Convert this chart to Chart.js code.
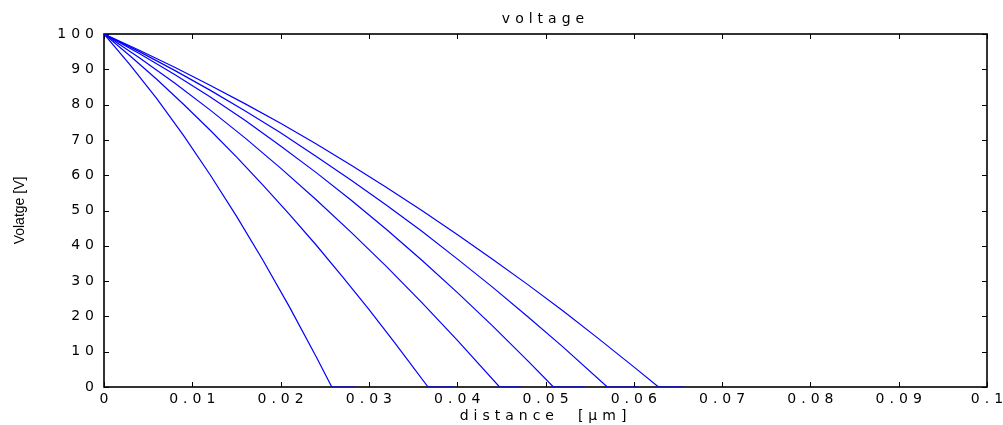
<!DOCTYPE html>
<html>
<head>
<meta charset="utf-8">
<script src="https://cdn.jsdelivr.net/npm/chart.js@4.4.1/dist/chart.umd.min.js"></script>
<style>
  html, body { margin: 0; padding: 0; background: #ffffff; }
  #wrap { width: 1003px; height: 425px; }
</style>
</head>
<body>
<div id="wrap"><canvas id="c" width="1003" height="425"></canvas></div>
<script>
// ---- data ----
const chartTitle = 'voltage';
const xAxisTitle = 'distance  [\u00b5m]';
const yAxisTitle = 'Volatge [V]';

const xTickLabels = ['0', '0.01', '0.02', '0.03', '0.04', '0.05', '0.06', '0.07', '0.08', '0.09', '0.1'];
const yTickLabels = ['0', '10', '20', '30', '40', '50', '60', '70', '80', '90', '100'];

const dist1 = [0, 0.003, 0.006, 0.009, 0.012, 0.015, 0.018, 0.021, 0.024, 0.0258, 0.0284];
const volt1 = [100, 91.1, 81.6, 71.3, 60.2, 48.4, 35.9, 22.7, 8.7, 0, 0];

const dist2 = [0, 0.003, 0.006, 0.009, 0.012, 0.015, 0.018, 0.021, 0.024, 0.027, 0.030, 0.033, 0.0367, 0.0396];
const volt2 = [100, 93.7, 87.1, 80.1, 72.8, 65.2, 57.2, 48.9, 40.3, 31.3, 22.0, 12.3, 0, 0];

const dist3 = [0, 0.004, 0.008, 0.012, 0.016, 0.020, 0.024, 0.028, 0.032, 0.036, 0.040, 0.0448, 0.0473];
const volt3 = [100, 93.3, 86.1, 78.5, 70.5, 62.0, 53.1, 43.8, 34.1, 23.9, 13.3, 0, 0];

const dist4 = [0, 0.004, 0.008, 0.012, 0.016, 0.020, 0.024, 0.028, 0.032, 0.036, 0.040, 0.044, 0.048, 0.0509, 0.0545];
const volt4 = [100, 94.5, 88.5, 82.2, 75.5, 68.3, 60.8, 52.9, 44.6, 35.9, 26.8, 17.3, 7.4, 0, 0];

const dist5 = [0, 0.004, 0.008, 0.012, 0.016, 0.020, 0.024, 0.028, 0.032, 0.036, 0.040, 0.044, 0.048, 0.052, 0.057, 0.0605];
const volt5 = [100, 95.0, 89.7, 84.1, 78.2, 72.0, 65.4, 58.6, 51.5, 44.1, 36.3, 28.3, 19.9, 11.3, 0, 0];

const dist6 = [0, 0.004, 0.008, 0.012, 0.016, 0.020, 0.024, 0.028, 0.032, 0.036, 0.040, 0.044, 0.048, 0.052, 0.056, 0.060, 0.0628, 0.0656];
const volt6 = [100, 95.4, 90.6, 85.5, 80.2, 74.7, 68.9, 62.8, 56.5, 50.0, 43.2, 36.2, 29.0, 21.5, 13.7, 5.7, 0, 0];

const seriesX = [dist1, dist2, dist3, dist4, dist5, dist6];
const seriesY = [volt1, volt2, volt3, volt4, volt5, volt6];

// ---- chart ----
const FONT = 'DejaVu Sans, Liberation Sans, sans-serif';
const FONT_Y = 'Liberation Sans, Arial, sans-serif';

const datasets = seriesX.map((xs, i) => ({
  label: 'V' + (i + 1),
  data: xs.map((x, j) => ({ x: x, y: seriesY[i][j] })),
  borderColor: '#0000ff',
  borderWidth: 1.2,
  pointRadius: 0,
  fill: false,
  tension: 0
}));

const spacingPlugin = {
  id: 'spacing',
  beforeDraw(chart) { chart.ctx.letterSpacing = '5px'; },
  afterDatasetsDraw(chart) { chart.ctx.letterSpacing = '0px'; },
  afterDraw(chart) { chart.ctx.letterSpacing = '0px'; }
};

const framePlugin = {
  id: 'frame',
  beforeDatasetsDraw(chart) {
    const ctx = chart.ctx;
    const a = chart.chartArea;
    const xs = chart.scales.x, ys = chart.scales.y;
    const tl = 5;
    ctx.save();
    ctx.strokeStyle = '#000000';
    ctx.lineWidth = 1;
    ctx.beginPath();
    xs.ticks.forEach(t => {
      const px = Math.round(xs.getPixelForValue(t.value)) + 0.5;
      ctx.moveTo(px, a.bottom); ctx.lineTo(px, a.bottom - tl);
      ctx.moveTo(px, a.top); ctx.lineTo(px, a.top + tl);
    });
    ys.ticks.forEach(t => {
      const py = Math.round(ys.getPixelForValue(t.value)) + 0.5;
      ctx.moveTo(a.left, py); ctx.lineTo(a.left + tl, py);
      ctx.moveTo(a.right, py); ctx.lineTo(a.right - tl, py);
    });
    ctx.stroke();
    ctx.lineWidth = 1.6;
    ctx.strokeRect(a.left, a.top, a.right - a.left, a.bottom - a.top);
    ctx.restore();
  }
};

new Chart(document.getElementById('c'), {
  type: 'line',
  data: { datasets: datasets },
  plugins: [spacingPlugin, framePlugin],
  options: {
    responsive: false,
    animation: false,
    events: [],
    layout: { padding: { left: 0, right: 16, top: 0, bottom: 0 } },
    plugins: {
      legend: { display: false },
      tooltip: { enabled: false },
      title: {
        display: true,
        fullSize: false,
        text: chartTitle,
        color: '#000000',
        font: { family: FONT, size: 14, weight: 'normal', lineHeight: 1.2 },
        padding: { top: 10.5, bottom: 6.7 }
      }
    },
    scales: {
      x: {
        type: 'linear',
        min: 0,
        max: 0.1,
        afterFit(s) { s.height = 38; },
        afterBuildTicks(s) {
          s.ticks = xTickLabels.map(l => ({ value: parseFloat(l) }));
        },
        grid: { display: true, drawOnChartArea: false, drawTicks: false, color: 'rgba(0,0,0,0)' },
        border: { display: false },
        ticks: {
          autoSkip: false,
          maxRotation: 0,
          padding: 4,
          labelOffset: 2.5,
          color: '#000000',
          font: { family: FONT, size: 14 },
          callback: (v, i) => xTickLabels[i]
        },
        title: {
          display: true,
          text: xAxisTitle,
          color: '#000000',
          font: { family: FONT, size: 14 },
          padding: { top: 0, bottom: 0 }
        }
      },
      y: {
        type: 'linear',
        min: 0,
        max: 100,
        afterFit(s) { s.width = 104; },
        afterBuildTicks(s) {
          s.ticks = yTickLabels.map(l => ({ value: parseFloat(l) }));
        },
        grid: { display: true, drawOnChartArea: false, drawTicks: false, color: 'rgba(0,0,0,0)', z: 1 },
        border: { display: false },
        ticks: {
          autoSkip: false,
          padding: 5,
          color: '#000000',
          font: { family: FONT, size: 14 },
          callback: (v, i) => yTickLabels[i]
        },
        title: {
          display: true,
          text: yAxisTitle,
          color: '#000000',
          font: { family: FONT_Y, size: 14 },
          padding: { top: 12, bottom: 0 }
        }
      }
    }
  }
});
</script>
</body>
</html>
